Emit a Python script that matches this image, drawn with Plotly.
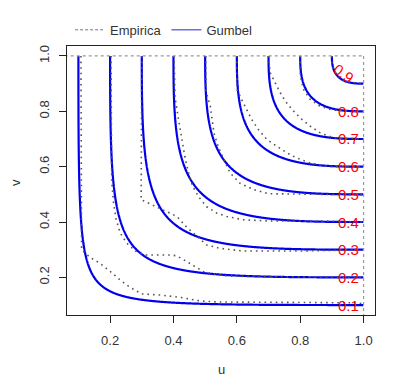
import numpy as np
import plotly.graph_objects as go

# ---------------- data ----------------
theta = 2.6                      # Gumbel copula parameter
levels = [0.1, 0.2, 0.3, 0.4, 0.5, 0.6, 0.7, 0.8, 0.9]
level_labels = ["0.1", "0.2", "0.3", "0.4", "0.5", "0.6", "0.7", "0.8", "0.9"]
label_u = [0.952, 0.952, 0.952, 0.952, 0.952, 0.952, 0.952, 0.952, 0.937]
label_v = [0.1, 0.2, 0.3, 0.4, 0.5, 0.6, 0.7, 0.8, 0.936]
label_angle = [0, 0, 0, 0, 0, 0, 0, 0, 37]

emp01_u = [0.108, 0.108, 0.109, 0.110, 0.137, 0.153, 0.168, 0.200, 0.232, 0.263, 0.300, 0.358, 0.421, 0.484, 0.537, 0.700, 0.900, 0.970, 1.000]
emp01_v = [1.000, 0.600, 0.400, 0.300, 0.272, 0.262, 0.251, 0.222, 0.190, 0.164, 0.140, 0.136, 0.128, 0.115, 0.111, 0.110, 0.110, 0.108, 0.105]
emp02_u = [0.203, 0.203, 0.205, 0.211, 0.219, 0.232, 0.253, 0.280, 0.311, 0.389, 0.410, 0.442, 0.495, 0.526, 0.570, 0.650, 0.800, 1.000]
emp02_v = [1.000, 0.700, 0.550, 0.468, 0.410, 0.360, 0.323, 0.295, 0.281, 0.281, 0.278, 0.257, 0.220, 0.212, 0.205, 0.203, 0.202, 0.200]
emp03_u = [0.300, 0.299, 0.298, 0.298, 0.305, 0.347, 0.379, 0.411, 0.442, 0.474, 0.505, 0.547, 0.621, 0.800, 0.950, 1.000]
emp03_v = [1.000, 0.700, 0.520, 0.480, 0.477, 0.454, 0.438, 0.420, 0.381, 0.347, 0.317, 0.305, 0.295, 0.295, 0.297, 0.300]
emp04_u = [0.402, 0.405, 0.416, 0.426, 0.437, 0.447, 0.460, 0.480, 0.505, 0.537, 0.568, 0.621, 0.700, 0.900, 1.000]
emp04_v = [1.000, 0.850, 0.770, 0.700, 0.630, 0.580, 0.530, 0.490, 0.455, 0.432, 0.420, 0.408, 0.404, 0.403, 0.400]
emp05_u = [0.502, 0.503, 0.516, 0.521, 0.528, 0.542, 0.553, 0.565, 0.579, 0.610, 0.653, 0.700, 0.800, 1.000]
emp05_v = [1.000, 0.870, 0.820, 0.770, 0.720, 0.670, 0.640, 0.610, 0.577, 0.540, 0.517, 0.502, 0.501, 0.498]
emp06_u = [0.600, 0.600, 0.615, 0.631, 0.647, 0.668, 0.695, 0.726, 0.758, 0.789, 0.832, 0.884, 1.000]
emp06_v = [1.000, 0.879, 0.843, 0.807, 0.770, 0.734, 0.698, 0.674, 0.650, 0.631, 0.613, 0.601, 0.600]
emp07_u = [0.700, 0.703, 0.705, 0.721, 0.737, 0.753, 0.774, 0.800, 0.832, 0.863, 0.905, 1.000]
emp07_v = [1.000, 0.960, 0.940, 0.903, 0.867, 0.837, 0.807, 0.776, 0.746, 0.722, 0.704, 0.700]
emp08_u = [0.800, 0.800, 0.810, 0.830, 0.860, 0.900, 0.950, 1.000]
emp08_v = [1.000, 0.930, 0.880, 0.845, 0.820, 0.805, 0.800, 0.800]
emp09_u = [0.900, 0.900, 0.910, 0.930, 0.960, 1.000]
emp09_v = [1.000, 0.970, 0.940, 0.915, 0.905, 0.900]
edge_top_u = [0.0, 1.0]
edge_top_v = [1.0, 1.0]
edge_right_u = [1.0, 1.0]
edge_right_v = [1.0, 0.0]

x_ticks = [0.2, 0.4, 0.6, 0.8, 1.0]
x_ticktext = ["0.2", "0.4", "0.6", "0.8", "1.0"]
y_ticks = [0.2, 0.4, 0.6, 0.8, 1.0]
y_ticktext = ["0.2", "0.4", "0.6", "0.8", "1.0"]

# ---------------- figure ----------------
grid = np.linspace(0.002, 1.0, 500)
U, V = np.meshgrid(grid, grid)
C = np.exp(-(((-np.log(U)) ** theta + (-np.log(V)) ** theta) ** (1.0 / theta)))

FONT = "Liberation Sans, Arial, sans-serif"
EMP_COLOR = "#555555"
BLUE = "#0000ee"

fig = go.Figure()

emp_sets = [(emp01_u, emp01_v), (emp02_u, emp02_v), (emp03_u, emp03_v),
            (emp04_u, emp04_v), (emp05_u, emp05_v), (emp06_u, emp06_v),
            (emp07_u, emp07_v), (emp08_u, emp08_v), (emp09_u, emp09_v)]
for uu, vv in emp_sets:
    fig.add_trace(go.Scatter(x=uu, y=vv, mode="lines", showlegend=False,
                             line=dict(color=EMP_COLOR, width=1.6, dash="1.6px,4px"),
                             hoverinfo="skip"))
for uu, vv in [(edge_top_u, edge_top_v), (edge_right_u, edge_right_v)]:
    fig.add_trace(go.Scatter(x=uu, y=vv, mode="lines", showlegend=False,
                             line=dict(color="#999999", width=1.2, dash="3px,3px"),
                             hoverinfo="skip"))

fig.add_trace(go.Contour(
    x=grid, y=grid, z=C,
    contours=dict(start=levels[0], end=levels[-1], size=0.1, coloring="lines"),
    colorscale=[[0, BLUE], [1, BLUE]], line=dict(width=2.2, smoothing=1),
    showscale=False, hoverinfo="skip", showlegend=False))

# legend entries
fig.add_trace(go.Scatter(x=[None], y=[None], mode="lines", name="Empirica",
                         line=dict(color="#777777", width=1, dash="3px,2px")))
fig.add_trace(go.Scatter(x=[None], y=[None], mode="lines", name="Gumbel",
                         line=dict(color="#6f6fe6", width=1.5)))

for lab, lu, lv, ang in zip(level_labels, label_u, label_v, label_angle):
    fig.add_annotation(x=lu, y=lv, text=lab, showarrow=False, textangle=ang,
                       font=dict(family=FONT, size=15, color="#ff0000"),
                       xanchor="center", yanchor="middle")

fig.add_annotation(x=0.5, y=-0.204, xref="paper", yref="paper", text="u",
                   showarrow=False, font=dict(family=FONT, size=13, color="#333333"),
                   xanchor="center", yanchor="middle")
fig.add_annotation(x=-0.169, y=0.494, xref="paper", yref="paper", text="v",
                   showarrow=False, textangle=-90,
                   font=dict(family=FONT, size=13, color="#333333"),
                   xanchor="center", yanchor="middle")

axis_common = dict(showgrid=False, zeroline=False, showline=True, mirror=True,
                   linecolor="#222222", linewidth=1, ticks="outside", ticklen=7,
                   tickcolor="#222222", tickwidth=1, automargin=False,
                   tickfont=dict(family=FONT, size=13, color="#333333"))
fig.update_layout(
    width=390, height=377,
    margin=dict(l=59, r=23, t=38, b=70, autoexpand=False),
    paper_bgcolor="white", plot_bgcolor="white",
    xaxis=dict(range=[0.064, 1.036], tickvals=x_ticks, ticktext=x_ticktext,
               ticklabelstandoff=6, **axis_common),
    yaxis=dict(range=[0.064, 1.036], tickvals=y_ticks, ticktext=y_ticktext,
               tickangle=-90, ticklabelstandoff=5, **axis_common),
    legend=dict(orientation="h", x=0.01, y=1.06, xanchor="left", yanchor="middle",
                font=dict(family=FONT, size=13, color="#333333"),
                bgcolor="rgba(0,0,0,0)", itemwidth=30),
    showlegend=True,
)

fig.write_html("out.html")
